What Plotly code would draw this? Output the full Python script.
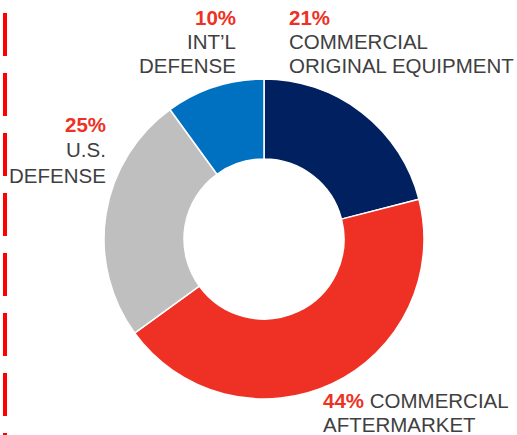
import plotly.graph_objects as go

# segment data (clockwise from 12 o'clock)
segments = ['Commercial Original Equipment', 'Commercial Aftermarket', 'U.S. Defense', "Int'l Defense"]
shares = [21, 44, 25, 10]
slice_colors = ['#00205F', '#EE3124', '#BFBFBF', '#0070C0']

W, H = 517, 435
RED = '#EE3124'
GREY = '#404040'
FONT = 'Liberation Sans, Arial, sans-serif'


def px(x):
    return x / W


def py(y):
    return 1 - y / H


cx, cy, r = 264, 239, 160

fig = go.Figure(go.Pie(
    labels=segments,
    values=shares,
    hole=0.5,
    sort=False,
    direction='clockwise',
    rotation=0,
    textinfo='none',
    hoverinfo='label+percent',
    marker=dict(colors=slice_colors, line=dict(color='white', width=1.5)),
    domain=dict(x=[px(cx - r), px(cx + r)], y=[py(cy + r), py(cy - r)]),
    showlegend=False,
))


def note(text, x, y, anchor, color=GREY, bold=False):
    if bold:
        text = '<b>' + text + '</b>'
    fig.add_annotation(text=text, x=px(x), y=py(y), xref='paper', yref='paper',
                       xanchor=anchor, yanchor='middle', showarrow=False,
                       font=dict(family=FONT, size=20.5, color=color))


# Int'l defense label
note(f'{shares[3]}%', 238, 17, 'right', RED, True)
note('INT’L', 238, 42, 'right')
note('DEFENSE', 238, 66, 'right')

# commercial OE label
note(f'{shares[0]}%', 287, 17, 'left', RED, True)
note('COMMERCIAL', 287, 42, 'left')
note('ORIGINAL EQUIPMENT', 287, 66, 'left')

# U.S. defense label
note(f'{shares[2]}%', 108, 124, 'right', RED, True)
note('U.S.', 108, 149, 'right')
note('DEFENSE', 108, 175, 'right')

# aftermarket label
note(f'<span style="color:{RED}"><b>{shares[1]}%</b></span> COMMERCIAL', 321, 400, 'left')
note('AFTERMARKET', 321, 424, 'left')

# dashed divider on the left
fig.add_shape(type='line', xref='paper', yref='paper',
              x0=px(5), x1=px(5), y0=py(13), y1=py(H),
              line=dict(color='#FF0000', width=4, dash='43px,17px'))

fig.update_layout(
    width=W, height=H,
    margin=dict(l=0, r=0, t=0, b=0),
    paper_bgcolor='white',
    plot_bgcolor='white',
)

# page body has a default 8px margin; drop it so the figure fills the window
fig.write_html('out.html', config={'displayModeBar': False},
               post_script="document.body.style.margin='0';")
